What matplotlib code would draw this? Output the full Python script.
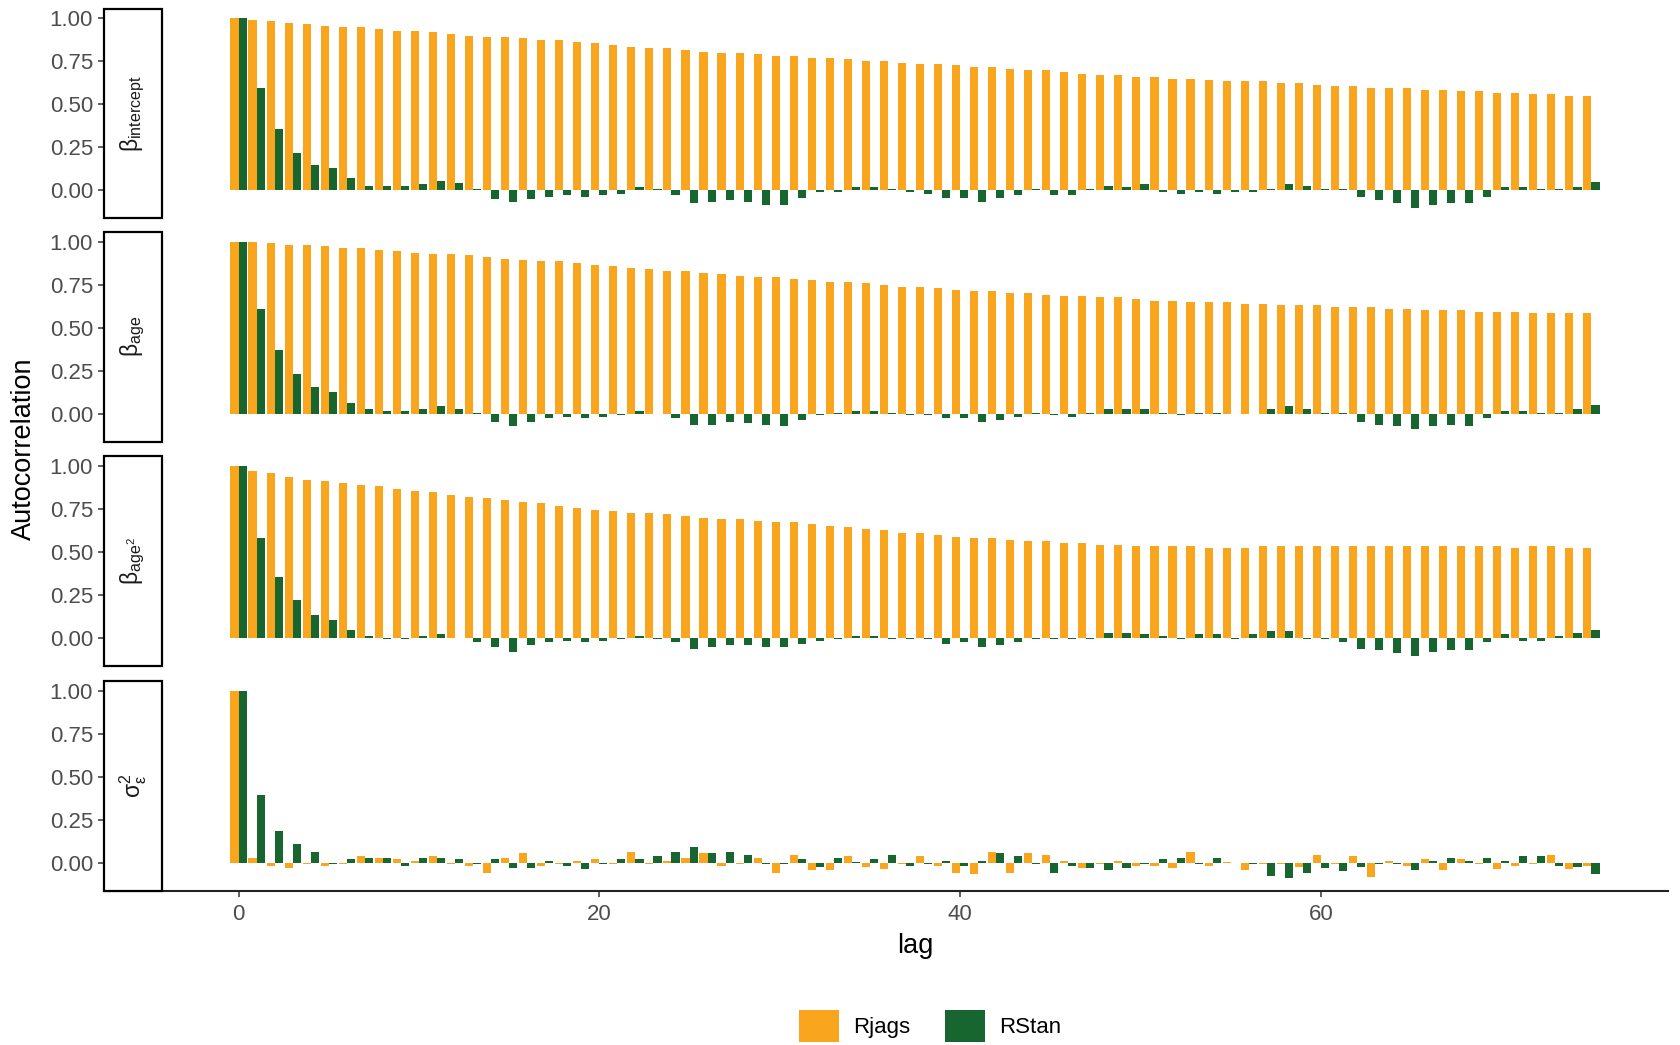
import numpy as np
import matplotlib
matplotlib.use("Agg")
import matplotlib.pyplot as plt
from matplotlib.patches import Rectangle, Patch

plt.rcParams['font.family'] = ['Liberation Sans', 'DejaVu Sans']
plt.rcParams['mathtext.fontset'] = 'custom'
plt.rcParams['mathtext.rm'] = 'Liberation Sans'
plt.rcParams['mathtext.it'] = 'Liberation Sans:italic'
plt.rcParams['mathtext.bf'] = 'Liberation Sans:bold'

# ---------------- data ----------------
lags = np.arange(76)

strip_labels = [r'$\mathrm{\beta}_{\mathrm{intercept}}$',
                r'$\mathrm{\beta}_{\mathrm{age}}$',
                r'$\mathrm{\beta}_{\mathrm{age^2}}$',
                r'$\mathrm{\sigma}^{2}_{\mathrm{\varepsilon}}$']

series_names = ['Rjags', 'RStan']

rjags_intercept = [1.00, 0.99, 0.982, 0.973, 0.963, 0.953, 0.946, 0.946, 0.936, 0.928,
                   0.928, 0.919, 0.907, 0.899, 0.89, 0.89, 0.882, 0.872, 0.872, 0.862,
                   0.853, 0.843, 0.835, 0.826, 0.826, 0.816, 0.806, 0.797, 0.797, 0.789,
                   0.779, 0.779, 0.769, 0.769, 0.762, 0.752, 0.752, 0.742, 0.733, 0.733,
                   0.725, 0.715, 0.715, 0.705, 0.696, 0.696, 0.686, 0.678, 0.669, 0.669,
                   0.659, 0.659, 0.649, 0.649, 0.64, 0.632, 0.632, 0.632, 0.622, 0.622,
                   0.612, 0.605, 0.605, 0.595, 0.595, 0.595, 0.585, 0.585, 0.576, 0.576,
                   0.566, 0.566, 0.558, 0.558, 0.548, 0.548]
rstan_intercept = [1.0, 0.597, 0.357, 0.219, 0.145, 0.128, 0.072, 0.025, 0.025, 0.025,
                   0.035, 0.052, 0.045, 0.01, -0.048, -0.066, -0.048, -0.039, -0.029, -0.039,
                   -0.029, -0.019, 0.017, 0.01, -0.029, -0.076, -0.066, -0.056, -0.066, -0.085,
                   -0.085, -0.047, -0.01, -0.01, 0.017, 0.017, 0.01, -0.01, -0.019, -0.047,
                   -0.047, -0.066, -0.047, -0.029, 0.01, -0.029, -0.029, 0.01, 0.027, 0.017,
                   0.037, -0.01, -0.019, -0.01, -0.019, -0.01, -0.01, 0.01, 0.037, 0.027,
                   0.01, 0.01, -0.039, -0.056, -0.076, -0.103, -0.085, -0.076, -0.076, -0.039,
                   0.017, 0.017, 0.01, 0.01, 0.017, 0.047]

rjags_age = [1.0, 0.998, 0.99, 0.982, 0.982, 0.972, 0.963, 0.963, 0.953, 0.946,
             0.936, 0.93, 0.93, 0.92, 0.909, 0.901, 0.891, 0.884, 0.884, 0.874,
             0.865, 0.855, 0.846, 0.838, 0.829, 0.829, 0.819, 0.81, 0.8, 0.793,
             0.793, 0.783, 0.774, 0.766, 0.766, 0.757, 0.747, 0.738, 0.738, 0.73,
             0.72, 0.711, 0.711, 0.701, 0.701, 0.692, 0.684, 0.684, 0.675, 0.675,
             0.665, 0.656, 0.656, 0.646, 0.646, 0.646, 0.638, 0.638, 0.629, 0.629,
             0.629, 0.619, 0.619, 0.619, 0.61, 0.61, 0.602, 0.602, 0.602, 0.592,
             0.592, 0.592, 0.583, 0.583, 0.583, 0.583]
rstan_age = [1.0, 0.611, 0.37, 0.233, 0.154, 0.125, 0.062, 0.025, 0.017, 0.017,
             0.027, 0.044, 0.027, 0.003, -0.046, -0.072, -0.046, -0.027, -0.017, -0.027,
             -0.017, -0.01, 0.017, -0.003, -0.027, -0.065, -0.065, -0.046, -0.055, -0.065,
             -0.072, -0.036, -0.01, 0.002, 0.017, 0.017, 0.002, -0.01, -0.01, -0.027,
             -0.027, -0.046, -0.036, -0.019, 0.002, -0.01, -0.019, 0.002, 0.027, 0.027,
             0.027, 0.002, -0.008, 0.002, 0.002, -0.002, -0.002, 0.027, 0.044, 0.027,
             0.002, 0.002, -0.046, -0.065, -0.072, -0.091, -0.072, -0.065, -0.072, -0.027,
             0.017, 0.017, 0.002, 0.002, 0.027, 0.053]

rjags_age2 = [1.0, 0.973, 0.956, 0.938, 0.919, 0.911, 0.902, 0.892, 0.884, 0.865,
              0.857, 0.848, 0.829, 0.819, 0.811, 0.802, 0.792, 0.782, 0.765, 0.755,
              0.746, 0.738, 0.728, 0.728, 0.719, 0.709, 0.699, 0.69, 0.69, 0.682,
              0.672, 0.672, 0.663, 0.653, 0.645, 0.636, 0.626, 0.609, 0.609, 0.599,
              0.59, 0.58, 0.58, 0.572, 0.563, 0.563, 0.553, 0.553, 0.543, 0.543,
              0.534, 0.534, 0.534, 0.534, 0.526, 0.526, 0.526, 0.534, 0.534, 0.534,
              0.534, 0.534, 0.534, 0.534, 0.534, 0.534, 0.534, 0.534, 0.534, 0.534,
              0.534, 0.526, 0.534, 0.534, 0.526, 0.526]
rstan_age2 = [1.0, 0.58, 0.353, 0.224, 0.133, 0.104, 0.05, 0.013, -0.006, -0.006,
              0.01, 0.023, 0.002, -0.025, -0.052, -0.079, -0.042, -0.025, -0.015, -0.025,
              -0.015, -0.006, 0.013, -0.006, -0.025, -0.062, -0.052, -0.042, -0.042, -0.052,
              -0.052, -0.033, -0.015, -0.006, 0.013, 0.013, -0.006, -0.006, -0.006, -0.033,
              -0.025, -0.052, -0.042, -0.025, -0.006, -0.006, -0.006, -0.006, 0.031, 0.031,
              0.023, 0.01, -0.006, 0.023, 0.023, -0.006, 0.023, 0.04, 0.04, -0.006,
              -0.006, -0.025, -0.062, -0.071, -0.089, -0.106, -0.079, -0.071, -0.071, -0.025,
              0.023, -0.015, -0.015, 0.01, 0.031, 0.05]

rjags_sigma = [1.0, 0.025, -0.017, -0.029, -0.006, -0.017, -0.005, 0.037, 0.025, 0.019,
               0.01, 0.037, -0.006, -0.017, -0.058, 0.029, 0.054, -0.017, -0.006, 0.01,
               0.019, -0.006, 0.065, -0.01, 0.01, 0.025, 0.054, -0.017, -0.006, 0.025,
               -0.058, 0.046, -0.044, -0.044, 0.037, -0.025, -0.037, -0.006, 0.037, -0.017,
               -0.058, -0.067, 0.065, -0.058, 0.054, 0.046, 0.01, -0.029, -0.006, 0.01,
               -0.017, -0.017, -0.029, 0.065, -0.017, 0.006, -0.044, -0.006, -0.006, -0.025,
               0.046, -0.006, 0.037, -0.085, 0.01, -0.017, 0.019, -0.044, 0.019, -0.006,
               -0.037, -0.017, -0.006, 0.046, -0.037, -0.017]
rstan_sigma = [1.0, 0.395, 0.185, 0.11, 0.065, -0.006, 0.019, 0.025, 0.025, -0.017,
               0.025, 0.025, 0.019, -0.005, 0.019, -0.029, -0.029, 0.01, -0.017, -0.037,
               -0.005, 0.019, 0.019, 0.037, 0.065, 0.092, 0.054, 0.065, 0.046, -0.006,
               -0.006, 0.019, -0.025, 0.025, 0.005, 0.019, 0.046, -0.017, -0.006, 0.01,
               -0.017, 0.01, 0.054, 0.037, -0.006, -0.058, -0.017, -0.029, -0.044, -0.029,
               -0.006, 0.019, 0.025, -0.01, 0.025, 0.0, -0.006, -0.075, -0.09, -0.058,
               -0.029, -0.048, -0.025, -0.006, -0.006, -0.044, 0.01, 0.025, 0.01, 0.025,
               0.01, 0.037, 0.037, -0.017, -0.025, -0.064]

rjags_all = [rjags_intercept, rjags_age, rjags_age2, rjags_sigma]
rstan_all = [rstan_intercept, rstan_age, rstan_age2, rstan_sigma]

y_ticks = [0.0, 0.25, 0.5, 0.75, 1.0]
x_ticks = [0, 20, 40, 60]

# ---------------- style ----------------
c_jags = '#F9A51E'
c_stan = '#17652F'
tick_col = '#4D4D4D'

W, H = 1680, 1045
fig = plt.figure(figsize=(W / 100, H / 100), dpi=100)

left_px, right_px = 104, 1668
strip_px = 58
panel_h = 209.5
tops = [8.6, 232.0, 456.4, 681.0]

# ggplot-like expansions
bw = 0.45
data_lo, data_hi = lags.min() - bw, lags.max() + bw
xr = data_hi - data_lo
p_lo, p_hi = data_lo - 0.05 * xr, data_hi + 0.05 * xr
strip_frac = strip_px / (right_px - left_px)
x_lo = p_lo - strip_frac / (1 - strip_frac) * (p_hi - p_lo)

all_vals = np.concatenate([np.array(v) for v in rjags_all + rstan_all])
yr = all_vals.max() - all_vals.min()
y_lo, y_hi = all_vals.min() - 0.05 * yr, all_vals.max() + 0.05 * yr

for i in range(4):
    top = tops[i]
    ax = fig.add_axes([left_px / W, 1 - (top + panel_h) / H,
                       (right_px - left_px) / W, panel_h / H])
    ax.bar(lags - bw / 2, rjags_all[i], width=bw, color=c_jags, linewidth=0)
    ax.bar(lags + bw / 2, rstan_all[i], width=bw, color=c_stan, linewidth=0)
    ax.set_xlim(x_lo, p_hi)
    ax.set_ylim(y_lo, y_hi)
    for s in ['top', 'right']:
        ax.spines[s].set_visible(False)
    ax.spines['left'].set_linewidth(1.2)
    ax.spines['left'].set_color('black')
    ax.set_yticks(y_ticks)
    ax.set_yticklabels([f'{t:.2f}' for t in y_ticks])
    ax.tick_params(axis='y', labelsize=16, labelcolor=tick_col, color='#333333',
                   length=4, width=1.1, pad=4)
    if i < 3:
        ax.spines['bottom'].set_visible(False)
        ax.set_xticks([])
    else:
        ax.spines['bottom'].set_linewidth(1.5)
        ax.spines['bottom'].set_color('#222222')
        ax.set_xticks(x_ticks)
        ax.set_xticklabels([str(t) for t in x_ticks])
        ax.tick_params(axis='x', labelsize=16, labelcolor=tick_col, color='#333333',
                       length=4, width=1.1, pad=6)
    rect = Rectangle((0, 0), strip_frac, 1, transform=ax.transAxes,
                     facecolor='white', edgecolor='black', linewidth=1.6,
                     clip_on=False, zorder=3)
    ax.add_patch(rect)
    ax.text(strip_frac / 2, 0.5, strip_labels[i], transform=ax.transAxes,
            rotation=90, ha='center', va='center', fontsize=16.5,
            color='#1A1A1A', zorder=4)

fig.text(23.5 / W, 1 - 449 / H, 'Autocorrelation', rotation=90,
         ha='center', va='center', fontsize=19.5, color='black')
fig.text(915 / W, 1 - 946 / H, 'lag', ha='center', va='center',
         fontsize=19.5, color='black')

handles = [Patch(facecolor=c_jags, edgecolor='none'),
           Patch(facecolor=c_stan, edgecolor='none')]
fig.legend(handles, series_names, loc='center', ncol=2, frameon=False,
           bbox_to_anchor=(930 / W, 1 - 1026 / H), fontsize=16,
           handlelength=1.8, handleheight=1.9, handletextpad=0.63,
           columnspacing=1.58, borderpad=0.0)

fig.savefig('out.png', dpi=100, facecolor='white')
